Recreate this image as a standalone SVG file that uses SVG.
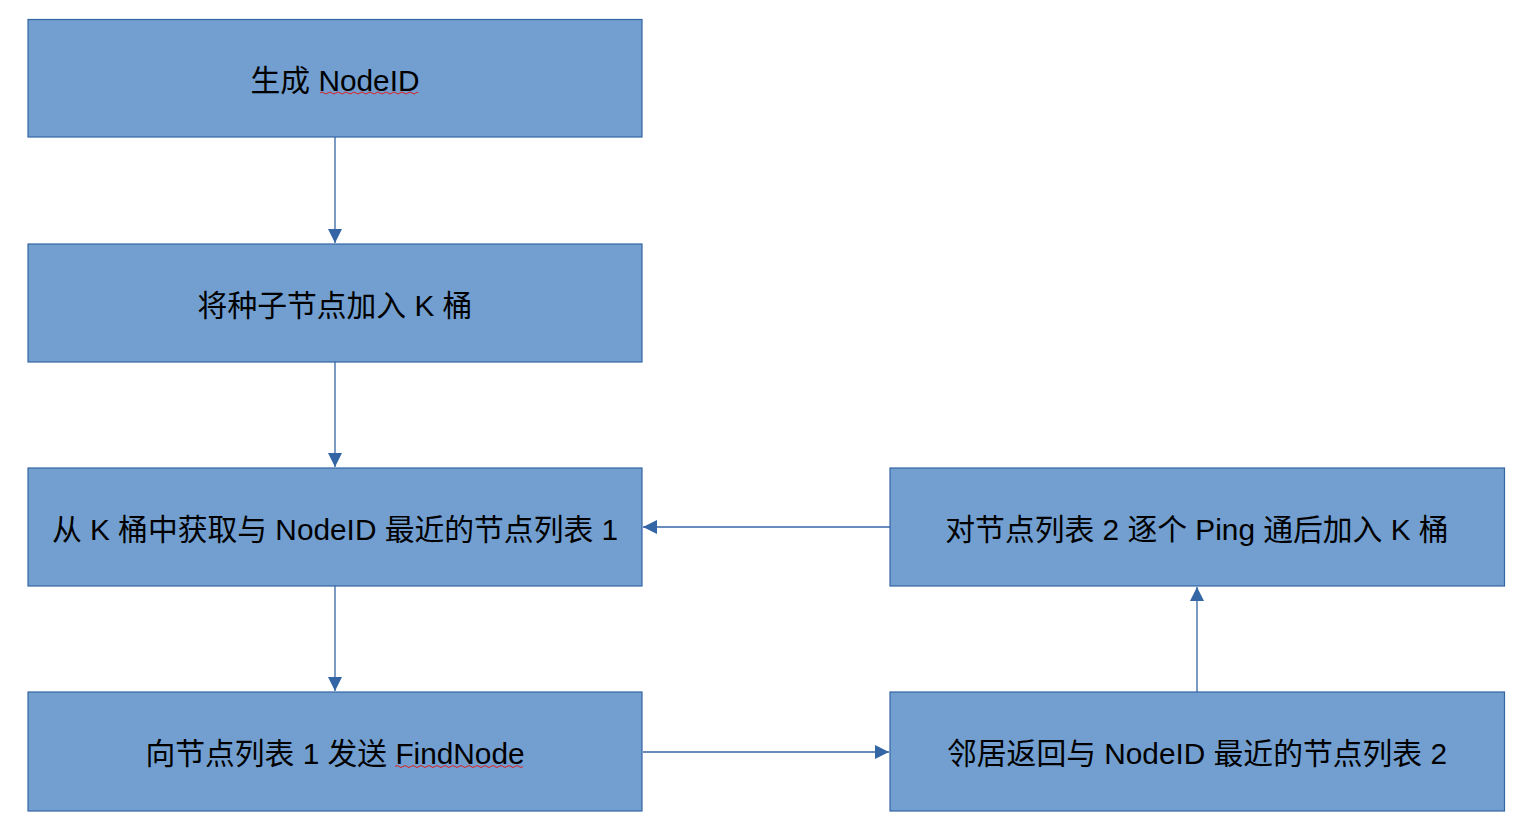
<svg xmlns="http://www.w3.org/2000/svg" width="1526" height="831" viewBox="0 0 1526 831">
<style>
.box{fill:#729fcf;stroke:#3465a4;stroke-width:1.2}
.lbl{font-family:"Liberation Sans","Noto Sans CJK SC",sans-serif;font-size:29.8px;fill:#000;text-anchor:middle}
.conn{stroke:#3465a4;stroke-width:1.3;fill:none}
.squig{stroke:#e02020;stroke-width:1;fill:none}
</style>
<defs>
<marker id="arr" viewBox="0 0 14 14" refX="14" refY="7" markerWidth="14" markerHeight="14" markerUnits="userSpaceOnUse" orient="auto">
<path d="M0,0 L14,7 L0,14 Z" fill="#3465a4"/>
</marker>
</defs>
<rect width="1526" height="831" fill="#fff"/>
<g id="connectors">
<line class="conn" x1="335" y1="137" x2="335" y2="243" marker-end="url(#arr)"/>
<line class="conn" x1="335" y1="362" x2="335" y2="467" marker-end="url(#arr)"/>
<line class="conn" x1="335" y1="586" x2="335" y2="691" marker-end="url(#arr)"/>
<line class="conn" x1="890" y1="527" x2="643" y2="527" marker-end="url(#arr)"/>
<line class="conn" x1="643" y1="752" x2="889" y2="752" marker-end="url(#arr)"/>
<line class="conn" x1="1197" y1="692" x2="1197" y2="587" marker-end="url(#arr)"/>
</g>
<g id="n1">
<rect class="box" x="28" y="19.5" width="614" height="117.5"/>
<text class="lbl" x="335" y="90.5">生成 NodeID</text>
<path class="squig" d="M320,93 q2,-2 4,0 t4,0 t4,0 t4,0 t4,0 t4,0 t4,0 t4,0 t4,0 t4,0 t4,0 t4,0 t4,0 t4,0 t4,0 t4,0 t4,0 t4,0 t4,0 t4,0 t4,0 t4,0 t4,0 t4,0 t2,0"/>
</g>
<g id="n2">
<rect class="box" x="28" y="244" width="614" height="118"/>
<text class="lbl" x="335" y="315.5">将种子节点加入 K 桶</text>
</g>
<g id="n3">
<rect class="box" x="28" y="468" width="614" height="118"/>
<text class="lbl" x="335" y="539.5">从 K 桶中获取与 NodeID 最近的节点列表 1</text>
</g>
<g id="n4">
<rect class="box" x="28" y="692" width="614" height="119"/>
<text class="lbl" x="335" y="764">向节点列表 1 发送 FindNode</text>
<path class="squig" d="M395,766.5 q2,-2 4,0 t4,0 t4,0 t4,0 t4,0 t4,0 t4,0 t4,0 t4,0 t4,0 t4,0 t4,0 t4,0 t4,0 t4,0 t4,0 t4,0 t4,0 t4,0 t4,0 t4,0 t4,0 t4,0 t4,0 t4,0 t4,0 t4,0 t4,0 t4,0 t4,0 t4,0 t4,0"/>
</g>
<g id="n5">
<rect class="box" x="890" y="468" width="614.5" height="118"/>
<text class="lbl" x="1197" y="539.5">对节点列表 2 逐个 Ping 通后加入 K 桶</text>
</g>
<g id="n6">
<rect class="box" x="890" y="692" width="614.5" height="119"/>
<text class="lbl" x="1197" y="764">邻居返回与 NodeID 最近的节点列表 2</text>
</g>
</svg>
